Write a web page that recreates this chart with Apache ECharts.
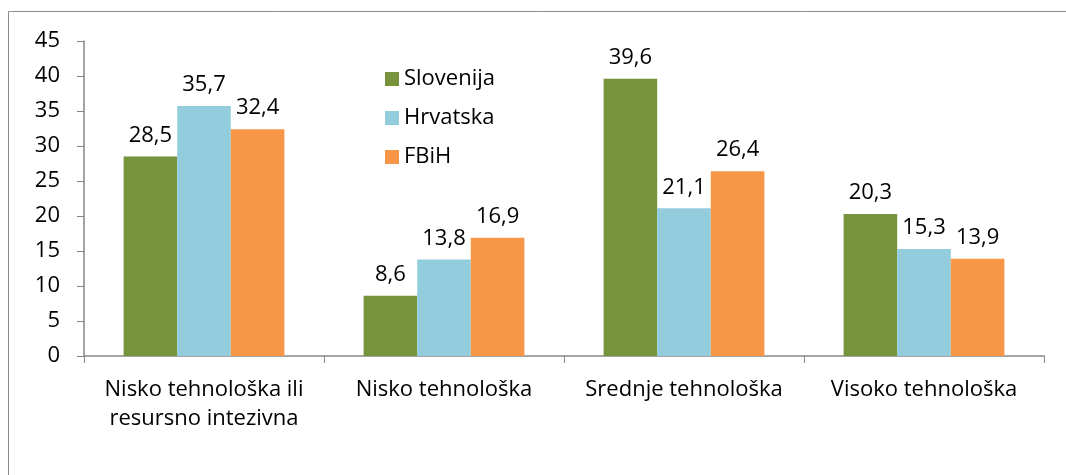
<!DOCTYPE html>
<html>
<head>
<meta charset="utf-8">
<style>
  html, body { margin: 0; padding: 0; background: #fff; }
  #chart { width: 1066px; height: 475px; }
</style>
<script src="https://cdn.jsdelivr.net/npm/echarts@6/dist/echarts.min.js"></script>
</head>
<body>
<div id="chart"></div>
<script>
// podaci
var categories = ['Nisko tehnološka ili\nresursno intezivna', 'Nisko tehnološka', 'Srednje tehnološka', 'Visoko tehnološka'];
var slovenija = [28.5, 8.6, 39.6, 20.3];
var hrvatska = [35.7, 13.8, 21.1, 15.3];
var fbih = [32.4, 16.9, 26.4, 13.9];

var fontName = 'Open Sans';
var fontSize = 22;

function fmt(p) {
    return String(p.value).replace('.', ',');
}

function barSeries(name, data, color) {
    return {
        name: name,
        type: 'bar',
        data: data,
        barGap: '0%',
        barCategoryGap: '33%',
        itemStyle: { color: color },
        label: {
            show: true,
            position: 'top',
            distance: 10,
            color: '#000',
            fontFamily: fontName,
            fontSize: fontSize,
            formatter: fmt
        }
    };
}

var chart = echarts.init(document.getElementById('chart'));
chart.setOption({
    animation: false,
    graphic: [{
        type: 'rect',
        shape: { x: 8.5, y: 11.5, width: 1200, height: 600 },
        style: { fill: 'none', stroke: '#8c8c8c', lineWidth: 1 }
    }],
    grid: { left: 84, right: 22, top: 41, bottom: 119 },
    legend: {
        orient: 'vertical',
        left: 380,
        top: 62,
        itemWidth: 14,
        itemHeight: 14,
        itemGap: 15,
        icon: 'rect',
        textStyle: { color: '#000', fontFamily: fontName, fontSize: fontSize, lineHeight: 24 },
        data: ['Slovenija', 'Hrvatska', 'FBiH']
    },
    xAxis: {
        type: 'category',
        data: categories,
        axisLine: { lineStyle: { color: '#868686', width: 1.5 } },
        axisTick: { show: true, length: 7, inside: false, lineStyle: { color: '#868686' } },
        axisLabel: { color: '#000', fontFamily: fontName, fontSize: fontSize, lineHeight: 29, margin: 19, interval: 0 }
    },
    yAxis: {
        type: 'value',
        min: 0,
        max: 45,
        interval: 5,
        splitLine: { show: false },
        axisLine: { show: true, lineStyle: { color: '#868686', width: 1.5 } },
        axisTick: { show: true, length: 7, lineStyle: { color: '#868686' } },
        axisLabel: { color: '#000', fontFamily: fontName, fontSize: fontSize, margin: 24 }
    },
    series: [
        barSeries('Slovenija', slovenija, '#77933C'),
        barSeries('Hrvatska', hrvatska, '#93CDDD'),
        barSeries('FBiH', fbih, '#F79646')
    ]
});
</script>
</body>
</html>
